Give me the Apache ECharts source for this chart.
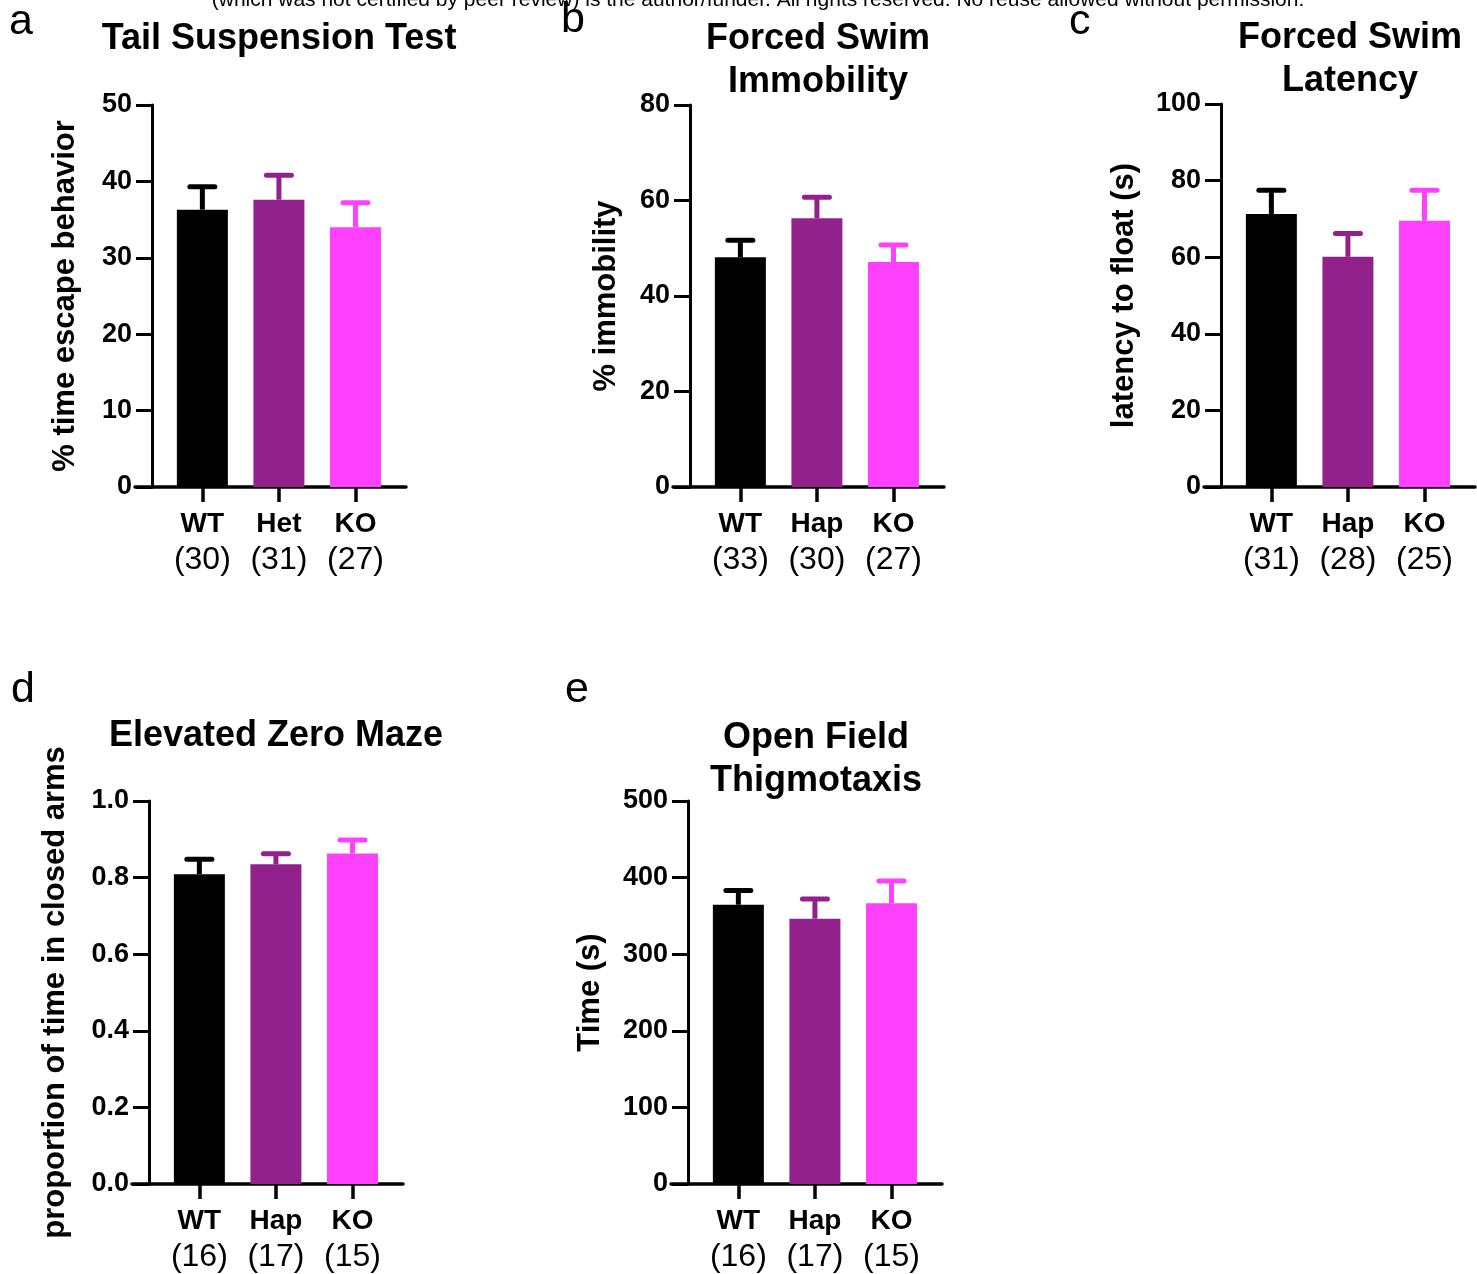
<!DOCTYPE html>
<html>
<head>
<meta charset="utf-8">
<script src="https://cdn.jsdelivr.net/npm/echarts@6/dist/echarts.min.js"></script>
<style>html,body{margin:0;padding:0;background:#fff}</style>
</head>
<body>
<div id="myChart" style="width:1477px;height:1274px"></div>
<script>
  // group colours: WT, Het/Hap, KO
  var colors = ['#000000', '#93218C', '#FF40FF'];

  // a - tail suspension
  var groupsA = ['WT', 'Het', 'KO'];
  var nA = [30, 31, 27];
  var meanA = [36.3, 37.6, 34.0];
  var semA = [3.0, 3.2, 3.2];

  // b - forced swim immobility
  var groupsB = ['WT', 'Hap', 'KO'];
  var nB = [33, 30, 27];
  var meanB = [48.1, 56.3, 47.1];
  var semB = [3.6, 4.4, 3.6];

  // c - forced swim latency
  var groupsC = ['WT', 'Hap', 'KO'];
  var nC = [31, 28, 25];
  var meanC = [71.3, 60.1, 69.5];
  var semC = [6.2, 6.1, 8.0];

  // d - elevated zero maze
  var groupsD = ['WT', 'Hap', 'KO'];
  var nD = [16, 17, 15];
  var meanD = [0.809, 0.835, 0.863];
  var semD = [0.039, 0.027, 0.035];

  // e - open field thigmotaxis
  var groupsE = ['WT', 'Hap', 'KO'];
  var nE = [16, 17, 15];
  var meanE = [364.6, 346.4, 366.4];
  var semE = [18.4, 25.6, 29.2];

  var FONT = '"Liberation Sans", Arial, Helvetica, sans-serif';

  var panels = [
    {groups: groupsA, n: nA, mean: meanA, sem: semA, left: 135, top: 105, height: 382, yMax: 50, yStep: 10, dec: 0, name: '% time escape behavior', gap: 71},
    {groups: groupsB, n: nB, mean: meanB, sem: semB, left: 673, top: 105, height: 382, yMax: 80, yStep: 20, dec: 0, name: '% immobility', gap: 68},
    {groups: groupsC, n: nC, mean: meanC, sem: semC, left: 1204, top: 104, height: 383, yMax: 100, yStep: 20, dec: 0, name: 'latency to float (s)', gap: 81},
    {groups: groupsD, n: nD, mean: meanD, sem: semD, left: 132, top: 801, height: 383, yMax: 1.0, yStep: 0.2, dec: 1, name: 'proportion of time in closed arms', gap: 78},
    {groups: groupsE, n: nE, mean: meanE, sem: semE, left: 671, top: 801, height: 383, yMax: 500, yStep: 100, dec: 0, name: 'Time (s)', gap: 82}
  ];

  var grid = [], xAxis = [], yAxis = [], series = [];

  panels.forEach(function (p, i) {
    grid.push({left: p.left, top: p.top, width: 271, height: p.height});
    xAxis.push({
      type: 'value', gridIndex: i, min: -0.88, max: 2.66,
      splitLine: {show: false},
      axisLine: {show: true, onZero: false, lineStyle: {color: '#000', width: 3.5}},
      axisTick: {show: true, customValues: [0, 1, 2], length: 15, lineStyle: {color: '#000', width: 3.5}},
      axisLabel: {
        show: true, customValues: [0, 1, 2], margin: 19,
        formatter: function (v) {
          var k = Math.round(v);
          return '{g|' + p.groups[k] + '}\n{n|(' + p.n[k] + ')}';
        },
        rich: {
          g: {fontSize: 28, fontWeight: 'bold', color: '#000', fontFamily: FONT, lineHeight: 36},
          n: {fontSize: 32, color: '#000', fontFamily: FONT, lineHeight: 36}
        }
      }
    });
    yAxis.push({
      type: 'value', gridIndex: i, min: 0, max: p.yMax, interval: p.yStep, offset: -17,
      splitLine: {show: false},
      axisLine: {show: true, onZero: false, lineStyle: {color: '#000', width: 3}},
      axisTick: {show: true, length: 16, lineStyle: {color: '#000', width: 3}},
      axisLabel: {
        margin: 20, fontSize: 27, fontWeight: 'bold', color: '#000', fontFamily: FONT,
        formatter: function (v) { return v.toFixed(p.dec); }
      },
      name: p.name, nameLocation: 'middle', nameGap: p.gap, nameMoveOverlap: false,
      nameTextStyle: {fontSize: 31, fontWeight: 'bold', color: '#000', fontFamily: FONT}
    });
    series.push({
      type: 'bar', xAxisIndex: i, yAxisIndex: i, barWidth: 51,
      data: p.mean.map(function (v, k) {
        return {value: [k, v], itemStyle: {color: colors[k]}};
      })
    });
    series.push({
      type: 'custom', xAxisIndex: i, yAxisIndex: i,
      data: p.mean.map(function (v, k) { return [k, v, v + p.sem[k]]; }),
      encode: {x: 0, y: [1, 2]},
      renderItem: function (params, api) {
        var c = colors[params.dataIndex];
        var p0 = api.coord([api.value(0), api.value(1)]);
        var p1 = api.coord([api.value(0), api.value(2)]);
        return {
          type: 'group',
          children: [
            {type: 'line', shape: {x1: p0[0], y1: p0[1], x2: p1[0], y2: p1[1]}, style: {stroke: c, lineWidth: 5}},
            {type: 'line', shape: {x1: p1[0] - 12.5, y1: p1[1], x2: p1[0] + 12.5, y2: p1[1]}, style: {stroke: c, lineWidth: 5, lineCap: 'round'}}
          ]
        };
      }
    });
  });

  var titleStyle = {fontSize: 36, fontWeight: 'bold', color: '#000', fontFamily: FONT, lineHeight: 43};

  var myChart = echarts.init(document.getElementById('myChart'));
  myChart.setOption({
    animation: false,
    backgroundColor: '#fff',
    title: [
      {text: 'Tail Suspension Test', left: 279, top: 18, textAlign: 'center', padding: 0, textStyle: titleStyle},
      {text: 'Forced Swim\nImmobility', left: 818, top: 18, textAlign: 'center', padding: 0, textStyle: titleStyle},
      {text: 'Forced Swim\nLatency', left: 1350, top: 17, textAlign: 'center', padding: 0, textStyle: titleStyle},
      {text: 'Elevated Zero Maze', left: 276, top: 715, textAlign: 'center', padding: 0, textStyle: titleStyle},
      {text: 'Open Field\nThigmotaxis', left: 816, top: 717, textAlign: 'center', padding: 0, textStyle: titleStyle}
    ],
    graphic: [
      {type: 'text', x: 758, y: -10, style: {text: '(which was not certified by peer review) is the author/funder. All rights reserved. No reuse allowed without permission.', font: '21px "Liberation Sans Narrow", "Liberation Sans", Arial, sans-serif', fill: '#000', textAlign: 'center', textVerticalAlign: 'top'}},
      {type: 'text', x: 9, y: 22, style: {text: 'a', font: '43px ' + FONT, fill: '#000', textVerticalAlign: 'middle'}},
      {type: 'text', x: 561, y: 20, style: {text: 'b', font: '43px ' + FONT, fill: '#000', textVerticalAlign: 'middle'}},
      {type: 'text', x: 1069, y: 22, style: {text: 'c', font: '43px ' + FONT, fill: '#000', textVerticalAlign: 'middle'}},
      {type: 'text', x: 11, y: 690, style: {text: 'd', font: '43px ' + FONT, fill: '#000', textVerticalAlign: 'middle'}},
      {type: 'text', x: 565, y: 690, style: {text: 'e', font: '43px ' + FONT, fill: '#000', textVerticalAlign: 'middle'}}
    ],
    grid: grid,
    xAxis: xAxis,
    yAxis: yAxis,
    series: series
  });
</script>
</body>
</html>
